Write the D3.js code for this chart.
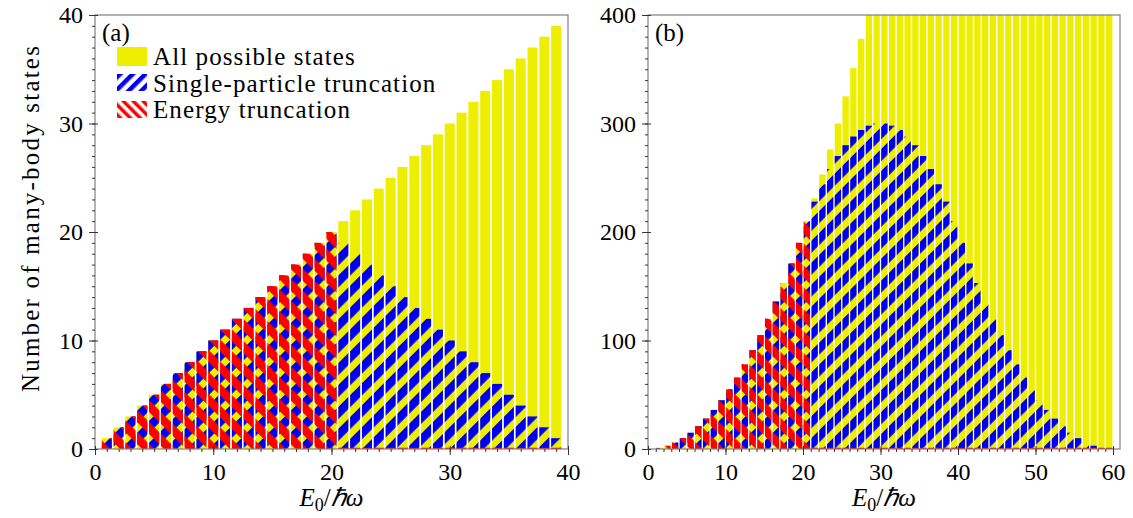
<!DOCTYPE html>
<html lang="en">
<head>
<meta charset="UTF-8">
<script src="https://cdn.jsdelivr.net/npm/d3@7"></script>
<style>
body { margin:0; background:#fff; }
text { font-family: "Liberation Serif", "Times New Roman", serif; }
</style>
<title>Many-body states</title>
</head>
<body>
<script>
// panel (a) data
var energyA = [1,2,3,4,5,6,7,8,9,10,11,12,13,14,15,16,17,18,19,20,
               21,22,23,24,25,26,27,28,29,30,31,32,33,34,35,36,37,38,39];
var allA = [1,2,3,4,5,6,7,8,9,10,11,12,13,14,15,16,17,18,19,20,
            21,22,23,24,25,26,27,28,29,30,31,32,33,34,35,36,37,38,39];
var singleA = [1,2,3,4,5,6,7,8,9,10,11,12,13,14,15,16,17,18,19,20,
               19,18,17,16,15,14,13,12,11,10,9,8,7,6,5,4,3,2,1];
var truncA = [1,2,3,4,5,6,7,8,9,10,11,12,13,14,15,16,17,18,19,20,
              0,0,0,0,0,0,0,0,0,0,0,0,0,0,0,0,0,0,0];

// panel (b) data
var energyB = [1.5,2.5,3.5,4.5,5.5,6.5,7.5,8.5,9.5,10.5,11.5,12.5,13.5,14.5,15.5,16.5,17.5,18.5,19.5,20.5,
               21.5,22.5,23.5,24.5,25.5,26.5,27.5,28.5,29.5,30.5,31.5,32.5,33.5,34.5,35.5,36.5,37.5,38.5,39.5,40.5,
               41.5,42.5,43.5,44.5,45.5,46.5,47.5,48.5,49.5,50.5,51.5,52.5,53.5,54.5,55.5,56.5,57.5,58.5,59.5];
var allB = [1,3,6,10,15,21,28,36,45,55,66,78,91,105,120,136,153,171,190,210,
            231,253,276,300,325,351,378,406,435,465,496,528,561,595,630,666,703,741,780,820,
            861,903,946,990,1035,1081,1128,1176,1225,1275,1326,1378,1431,1485,1540,1596,1653,1711,1770];
var singleB = [1,3,6,10,15,21,28,36,45,55,66,78,91,105,120,136,153,171,190,210,
               228,244,258,270,280,288,294,298,300,300,298,294,288,280,270,258,244,228,210,190,
               171,153,136,120,105,91,78,66,55,45,36,28,21,15,10,6,3,1,0];
var truncB = [1,3,6,10,15,21,28,36,45,55,66,78,91,105,120,136,153,171,190,210,
              0,0,0,0,0,0,0,0,0,0,0,0,0,0,0,0,0,0,0,0,
              0,0,0,0,0,0,0,0,0,0,0,0,0,0,0,0,0,0,0];

var xTicksA = [0,10,20,30,40], yTicksA = [0,10,20,30,40];
var xTicksB = [0,10,20,30,40,50,60], yTicksB = [0,100,200,300,400];
var legendNames = ["All possible states", "Single-particle truncation", "Energy truncation"];

var YELLOW = "#eeee00", BLUE = "#0000ee", RED = "#ff0000";
var plotTop = 15, plotBottom = 449;

var svg = d3.select("body").append("svg")
    .attr("width", 1133).attr("height", 518);

var defs = svg.append("defs");
function hatch(id, color, angle, period, share) {
  var p = defs.append("pattern").attr("id", id)
      .attr("patternUnits", "userSpaceOnUse")
      .attr("width", period).attr("height", period)
      .attr("patternTransform", "rotate(" + angle + ")");
  p.append("rect").attr("width", period * share).attr("height", period).attr("fill", color);
}
hatch("blueHatch", BLUE, 45, 15.5, 0.55);
hatch("redHatch", RED, -45, 15.5, 0.55);
hatch("blueLeg", BLUE, 45, 9, 0.5);
hatch("redLeg", RED, -45, 7, 0.5);

function panel(p) {
  var x = d3.scaleLinear().domain([0, p.xMax]).range([p.left, p.right]);
  var y = d3.scaleLinear().domain([0, p.yMax]).range([plotBottom, plotTop]);
  var bw = (x(1) - x(0)) * p.frac;

  defs.append("clipPath").attr("id", "clip" + p.id)
    .append("rect").attr("x", p.left).attr("y", plotTop)
    .attr("width", p.right - p.left).attr("height", plotBottom - plotTop);

  var g = svg.append("g").attr("clip-path", "url(#clip" + p.id + ")");

  function bars(vals, fill) {
    g.append("g").selectAll("rect").data(vals).enter().append("rect")
      .attr("x", function(d, i) { return x(p.energy[i]) - bw / 2; })
      .attr("y", function(d) { return y(d); })
      .attr("width", bw)
      .attr("height", function(d) { return y(0) - y(d); })
      .attr("fill", fill);
  }
  bars(p.all, YELLOW);
  bars(p.single, "url(#blueHatch)");
  bars(p.trunc, "url(#redHatch)");

  // zero-height truncated bars leave a red edge on the baseline
  g.append("g").selectAll("line")
    .data(p.energy.filter(function(e, i) { return p.trunc[i] === 0; }))
    .enter().append("line")
      .attr("x1", function(e) { return x(e) - bw / 2; })
      .attr("x2", function(e) { return x(e) + bw / 2; })
      .attr("y1", y(0) - 0.5).attr("y2", y(0) - 0.5)
      .attr("stroke", RED).attr("stroke-width", 1.5);

  // frame
  svg.append("rect").attr("x", p.left).attr("y", plotTop)
    .attr("width", p.right - p.left).attr("height", plotBottom - plotTop)
    .attr("fill", "none").attr("stroke", "#808080").attr("stroke-width", 1.2);

  // minor ticks
  svg.append("g").attr("transform", "translate(0," + plotBottom + ")")
    .call(d3.axisBottom(x).tickValues(d3.range(0, p.xMax + 0.001, p.xMinor)).tickSize(3).tickFormat(""))
    .call(function(a) { a.select(".domain").remove(); a.selectAll("line").attr("stroke", "#333"); });
  svg.append("g").attr("transform", "translate(" + p.left + ",0)")
    .call(d3.axisLeft(y).tickValues(d3.range(0, p.yMax + 0.001, p.yMinor)).tickSize(3).tickFormat(""))
    .call(function(a) { a.select(".domain").remove(); a.selectAll("line").attr("stroke", "#333"); });

  // major ticks
  var ax = svg.append("g").attr("transform", "translate(0," + plotBottom + ")")
    .call(d3.axisBottom(x).tickValues(p.xTicks).tickSize(6).tickPadding(8));
  var ay = svg.append("g").attr("transform", "translate(" + p.left + ",0)")
    .call(d3.axisLeft(y).tickValues(p.yTicks).tickSize(6).tickPadding(6));
  [ax, ay].forEach(function(a) {
    a.select(".domain").remove();
    a.attr("font-family", null).attr("font-size", null);
    a.selectAll("line").attr("stroke", "#333");
    a.selectAll("text").style("font-size", "24px").attr("fill", "#000");
  });
  ax.selectAll("line").attr("y1", -3);
  ay.selectAll("line").attr("x1", 3);

  // x label
  var lab = svg.append("text").attr("x", (p.left + p.right) / 2).attr("y", 506)
    .attr("text-anchor", "middle").style("font-size", "25px");
  lab.append("tspan").style("font-style", "italic").text("E");
  lab.append("tspan").attr("dy", 5).style("font-size", "18px").text("0");
  lab.append("tspan").attr("dy", -5).text("/");
  lab.append("tspan").style("font-style", "italic").text("\u210F\u03C9");

  svg.append("text").attr("x", p.left + 7).attr("y", 41)
    .style("font-size", "25px").text(p.id === "A" ? "(a)" : "(b)");
}

panel({id: "A", left: 95, right: 568, xMax: 40, yMax: 40, frac: 0.85,
       energy: energyA, all: allA, single: singleA, trunc: truncA,
       xTicks: xTicksA, yTicks: yTicksA, xMinor: 1, yMinor: 1});
panel({id: "B", left: 648, right: 1120, xMax: 60.9, yMax: 400, frac: 0.82,
       energy: energyB, all: allB, single: singleB, trunc: truncB,
       xTicks: xTicksB, yTicks: yTicksB, xMinor: 1, yMinor: 10});

// y label
svg.append("text").attr("transform", "translate(39,218) rotate(-90)")
  .attr("text-anchor", "middle").style("font-size", "25px")
  .style("letter-spacing", "2.2px")
  .text("Number of many-body states");

// legend
var leg = svg.append("g");
var legFill = [YELLOW, "url(#blueLeg)", "url(#redLeg)"];
leg.selectAll("rect").data(legendNames).enter().append("rect")
  .attr("x", 117).attr("y", function(d, i) { return 47 + i * 27; })
  .attr("width", 30).attr("height", function(d, i) { return i === 0 ? 19 : 17; })
  .attr("fill", function(d, i) { return legFill[i]; });
leg.selectAll("text").data(legendNames).enter().append("text")
  .attr("x", 153).attr("y", function(d, i) { return 65 + i * 26.5; })
  .style("font-size", "25px").style("letter-spacing", "1.1px")
  .text(function(d) { return d; });
</script>
</body>
</html>
